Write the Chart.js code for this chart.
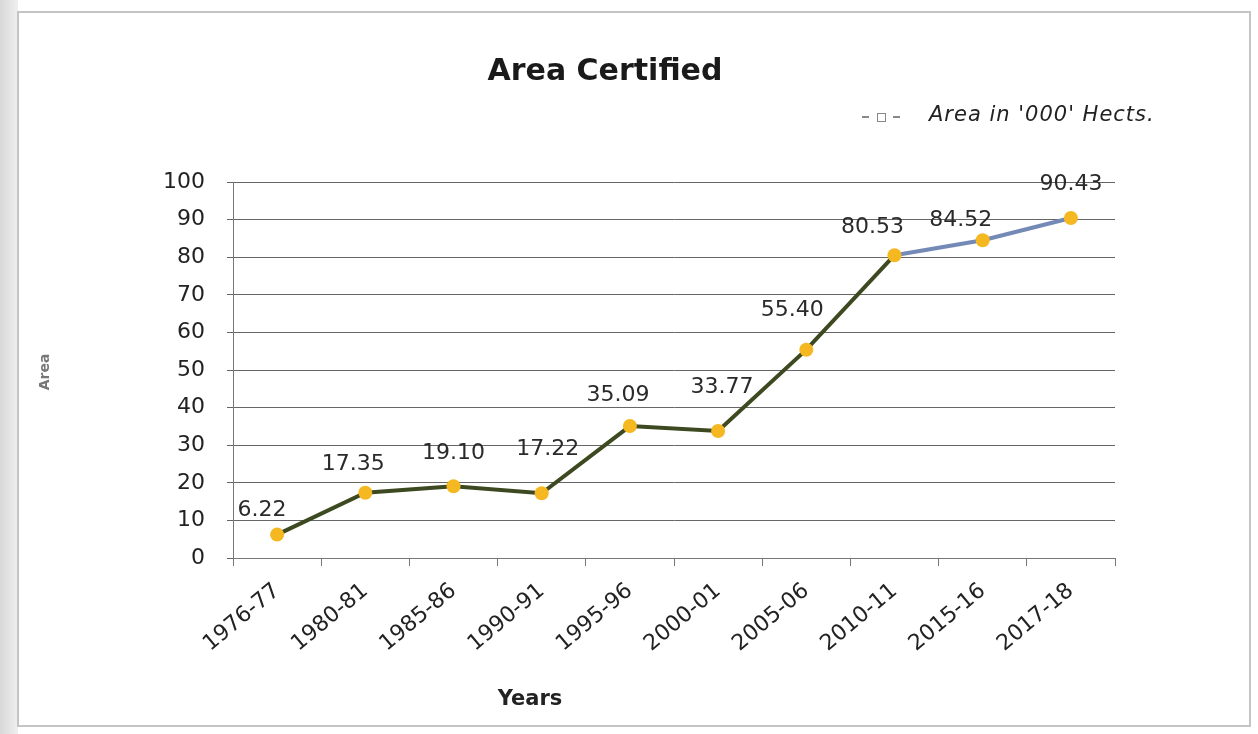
<!DOCTYPE html>
<html>
<head>
<meta charset="utf-8">
<script src="https://cdn.jsdelivr.net/npm/chart.js@4.4.1/dist/chart.umd.min.js"></script>
<style>
    html, body { margin: 0; padding: 0; background: #fff; }
    #wrap { width: 1258px; height: 734px; }
</style>
</head>
<body>
<div id="wrap"><canvas id="areaChart" width="1258" height="734"></canvas></div>
<script>
// Chart data
const years = ['1976-77', '1980-81', '1985-86', '1990-91', '1995-96', '2000-01', '2005-06', '2010-11', '2015-16', '2017-18'];
const areaValues = [6.22, 17.35, 19.10, 17.22, 35.09, 33.77, 55.40, 80.53, 84.52, 90.43];
const yTicks = [0, 10, 20, 30, 40, 50, 60, 70, 80, 90, 100];

// Data label offsets (px) relative to the point
const labelShift = [[-15, -24], [-12, -28], [0, -33], [6, -44], [-12, -31], [4, -44], [-14, -39], [-22, -28], [-22, -20], [0, -34]];

const oldColor = '#3d4920';
const newColor = '#7389b6';

// Page frame, titles, legend and value labels
const decorPlugin = {
    id: 'decor',
    beforeDraw(chart) {
        const ctx = chart.ctx;
        ctx.save();
        ctx.fillStyle = '#fff';
        ctx.fillRect(0, 0, chart.width, chart.height);
        const grad = ctx.createLinearGradient(0, 0, 20, 0);
        grad.addColorStop(0, '#d8d8d8');
        grad.addColorStop(1, '#f2f2f2');
        ctx.fillStyle = grad;
        ctx.fillRect(0, 0, 18, chart.height);
        ctx.strokeStyle = '#c4c4c4';
        ctx.lineWidth = 2;
        ctx.strokeRect(18, 12, 1232, 714);
        ctx.restore();
    },
    afterDraw(chart) {
        const ctx = chart.ctx;
        ctx.save();
        ctx.textBaseline = 'middle';

        // title
        ctx.fillStyle = '#1a1a1a';
        ctx.textAlign = 'center';
        ctx.font = 'bold 30px "DejaVu Sans"';
        ctx.fillText('Area Certified', 605, 72);

        // axis titles
        ctx.font = 'bold 21px "DejaVu Sans"';
        ctx.fillStyle = '#222';
        ctx.fillText('Years', 530, 700);
        ctx.save();
        ctx.translate(45, 372);
        ctx.rotate(-Math.PI / 2);
        ctx.font = 'bold 14px "DejaVu Sans"';
        ctx.fillStyle = '#777';
        ctx.fillText('Area', 0, 0);
        ctx.restore();

        // legend
        ctx.strokeStyle = '#888';
        ctx.lineWidth = 2;
        ctx.beginPath();
        ctx.moveTo(862, 117); ctx.lineTo(869, 117);
        ctx.moveTo(893, 117); ctx.lineTo(900, 117);
        ctx.stroke();
        ctx.lineWidth = 1;
        ctx.strokeRect(877.5, 113.5, 8, 8);
        ctx.fillStyle = '#222';
        ctx.font = 'italic 21px "DejaVu Sans"';
        ctx.letterSpacing = '1px';
        ctx.textAlign = 'left';
        ctx.fillText("Area in '000' Hects.", 929, 116);

        // value labels
        const meta = chart.getDatasetMeta(0);
        ctx.font = '22px "DejaVu Sans"';
        ctx.letterSpacing = '0px';
        ctx.fillStyle = '#2a2a2a';
        ctx.textAlign = 'center';
        meta.data.forEach((pt, i) => {
            const s = labelShift[i];
            ctx.fillText(areaValues[i].toFixed(2), pt.x + s[0], pt.y + s[1]);
        });
        ctx.restore();
    }
};

const ctx = document.getElementById('areaChart').getContext('2d');

new Chart(ctx, {
    type: 'line',
    data: {
        labels: years,
        datasets: [{
            label: "Area in '000' Hects.",
            data: areaValues,
            borderWidth: 4,
            borderColor: oldColor,
            segment: {
                borderColor: c => c.p0DataIndex >= 7 ? newColor : oldColor
            },
            tension: 0,
            pointStyle: 'circle',
            pointRadius: 7,
            pointBackgroundColor: '#f5b820',
            pointBorderColor: '#f5b820',
            pointBorderWidth: 0
        }]
    },
    options: {
        responsive: false,
        animation: false,
        layout: { padding: { left: 30, right: 143, top: 182, bottom: 20 } },
        plugins: {
            legend: { display: false },
            tooltip: { enabled: false },
            title: { display: false }
        },
        scales: {
            x: {
                offset: true,
                grid: { display: true, drawOnChartArea: false, drawTicks: true, tickLength: 8, color: '#777', offset: true },
                border: { display: true, color: '#777', width: 1 },
                ticks: {
                    color: '#222',
                    font: { family: '"DejaVu Sans"', size: 22 },
                    maxRotation: 40, minRotation: 40,
                    padding: 12
                },
                afterFit: s => { s.height = 156; }
            },
            y: {
                min: 0, max: 100,
                afterBuildTicks: s => { s.ticks = yTicks.map(v => ({ value: v })); },
                grid: { color: '#666', lineWidth: 1, drawTicks: true, tickLength: 6 },
                border: { display: true, color: '#777' },
                ticks: {
                    color: '#222',
                    font: { family: '"DejaVu Sans"', size: 22 },
                    padding: 22
                },
                afterFit: s => { s.width = 203; }
            }
        }
    },
    plugins: [decorPlugin]
});
</script>
</body>
</html>
